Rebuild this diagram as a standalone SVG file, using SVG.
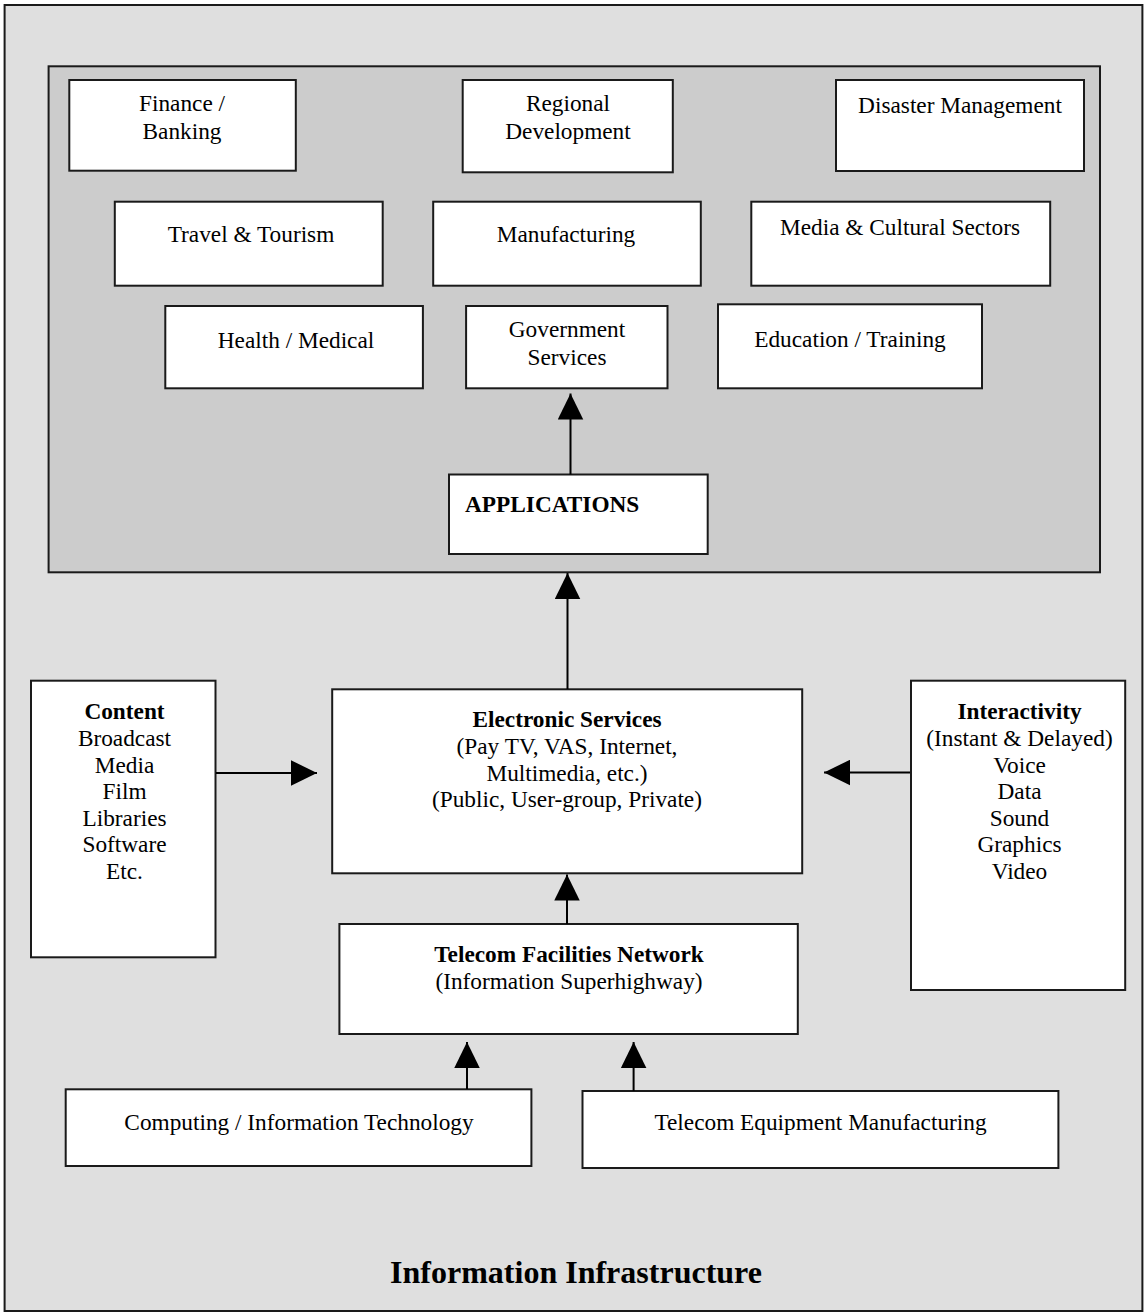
<svg xmlns="http://www.w3.org/2000/svg" width="1145" height="1315" viewBox="0 0 1145 1315">
<style>
.box{fill:#ffffff;stroke:#1a1a1a;stroke-width:2}
.t{font-family:"Liberation Serif","Times New Roman",serif;font-size:23.3px;fill:#000;text-anchor:middle}
.b{font-weight:bold}
.c{stroke:#000;stroke-width:2;fill:none;marker-end:url(#ah)}
</style>
<defs>
<marker id="ah" markerUnits="userSpaceOnUse" markerWidth="26" markerHeight="26" refX="26" refY="12.75" orient="auto" viewBox="0 0 26 25.5">
<path d="M0,0 L26,12.75 L0,25.5 z" fill="#000"/>
</marker>
</defs>
<g id="outer"><rect x="4.6" y="5" width="1137.8" height="1306" fill="#dfdfdf" stroke="#1a1a1a" stroke-width="2"/>
<text class="t b" x="576" y="1283" style="font-size:32px">Information Infrastructure</text></g>
<g id="applications-area"><rect x="48.6" y="66.3" width="1051.4" height="506" fill="#cccccc" stroke="#1a1a1a" stroke-width="2"/></g>
<g id="finance"><rect class="box" x="69.3" y="80" width="226.5" height="90.7"/><text class="t" x="182" y="111">Finance /</text><text class="t" x="182" y="139">Banking</text></g>
<g id="regional"><rect class="box" x="462.7" y="80" width="210.1" height="92.3"/><text class="t" x="568" y="111">Regional</text><text class="t" x="568" y="139">Development</text></g>
<g id="disaster"><rect class="box" x="836" y="80" width="248" height="91"/><text class="t" x="960" y="113">Disaster Management</text></g>
<g id="travel"><rect class="box" x="114.8" y="201.7" width="267.9" height="84"/><text class="t" x="251" y="242">Travel &amp; Tourism</text></g>
<g id="manufacturing"><rect class="box" x="433.2" y="201.7" width="267.6" height="84"/><text class="t" x="566" y="242">Manufacturing</text></g>
<g id="media"><rect class="box" x="751.3" y="201.7" width="298.9" height="84"/><text class="t" x="900" y="235">Media &amp; Cultural Sectors</text></g>
<g id="health"><rect class="box" x="165.3" y="306" width="257.6" height="82.3"/><text class="t" x="296" y="348">Health / Medical</text></g>
<g id="government"><rect class="box" x="466.1" y="306" width="201.4" height="82.3"/><text class="t" x="567" y="337">Government</text><text class="t" x="567" y="365">Services</text></g>
<g id="education"><rect class="box" x="718" y="304.3" width="264" height="84"/><text class="t" x="850" y="347">Education / Training</text></g>
<g id="applications"><rect class="box" x="449" y="474.5" width="258.7" height="79.5"/><text class="t b" x="465" y="512" style="text-anchor:start">APPLICATIONS</text></g>
<g id="content"><rect class="box" x="31" y="680.7" width="184.5" height="276.6"/>
<text class="t b" x="124.5" y="719">Content</text>
<text class="t" x="124.5" y="745.5">Broadcast</text>
<text class="t" x="124.5" y="772.5">Media</text>
<text class="t" x="124.5" y="799">Film</text>
<text class="t" x="124.5" y="825.5">Libraries</text>
<text class="t" x="124.5" y="852">Software</text>
<text class="t" x="124.5" y="879">Etc.</text></g>
<g id="electronic-services"><rect class="box" x="332.2" y="689.3" width="470" height="184"/>
<text class="t b" x="567" y="727">Electronic Services</text>
<text class="t" x="567" y="754">(Pay TV, VAS, Internet,</text>
<text class="t" x="567" y="780.5">Multimedia, etc.)</text>
<text class="t" x="567" y="807">(Public, User-group, Private)</text></g>
<g id="interactivity"><rect class="box" x="911" y="680.7" width="214.2" height="309.3"/>
<text class="t b" x="1019.5" y="719">Interactivity</text>
<text class="t" x="1019.5" y="745.5">(Instant &amp; Delayed)</text>
<text class="t" x="1019.5" y="772.5">Voice</text>
<text class="t" x="1019.5" y="799">Data</text>
<text class="t" x="1019.5" y="825.5">Sound</text>
<text class="t" x="1019.5" y="852">Graphics</text>
<text class="t" x="1019.5" y="879">Video</text></g>
<g id="telecom-network"><rect class="box" x="339.4" y="924" width="458.4" height="110"/>
<text class="t b" x="569" y="962">Telecom Facilities Network</text>
<text class="t" x="569" y="989">(Information Superhighway)</text></g>
<g id="computing"><rect class="box" x="65.7" y="1089.3" width="465.7" height="76.7"/><text class="t" x="299" y="1130">Computing / Information Technology</text></g>
<g id="telecom-equipment"><rect class="box" x="582.5" y="1091" width="475.9" height="77"/><text class="t" x="820.5" y="1130">Telecom Equipment Manufacturing</text></g>
<g id="connectors">
<line class="c" x1="570.5" y1="474.5" x2="570.5" y2="393.5"/>
<line class="c" x1="567.5" y1="689" x2="567.5" y2="573"/>
<line class="c" x1="216" y1="773" x2="317" y2="773"/>
<line class="c" x1="910" y1="772.5" x2="824" y2="772.5"/>
<line class="c" x1="567" y1="924" x2="567" y2="874.5"/>
<line class="c" x1="467" y1="1089" x2="467" y2="1042"/>
<line class="c" x1="633.6" y1="1091" x2="633.6" y2="1042"/>
</g>
</svg>
